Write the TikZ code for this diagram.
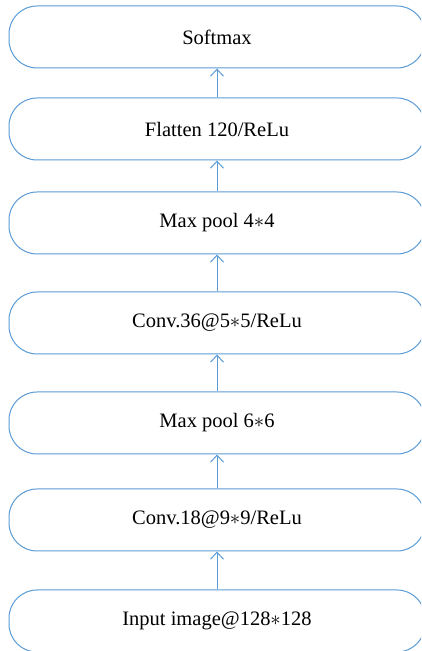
\documentclass[tikz,border=0pt]{standalone}
\usepackage{fontspec}
\setmainfont{Liberation Serif}
\usetikzlibrary{arrows.meta}
\definecolor{layerblue}{RGB}{91,155,213}
\tikzset{layer/.style={draw=layerblue, line width=1pt, rounded corners=28pt, minimum width=416pt, minimum height=62pt, inner sep=0pt, font=\fontsize{20.5}{24}\selectfont},
	up/.style={draw=layerblue, line width=1pt, -{Straight Barb[length=7pt,width=13pt]}}}

\begin{document}
\begin{tikzpicture}[x=1pt,y=1pt]
		\clip (0,0) rectangle (421,651);
		\useasboundingbox (0,0) rectangle (421,651);
		\node (input)[layer]at (217,30)  {Input image@128$\ast$128};
		\node (conva)[layer]at (217,131)  {Conv.18@9$\ast$9/ReLu};
		\node (poola)[layer]at (217,228)  {Max pool 6$\ast$6};
		\node (convb)[layer]at (217,328)  {Conv.36@5$\ast$5/ReLu};
		\node (poolb)[layer]at (217,428)  {Max pool 4$\ast$4};
		\node (flat)[layer]at (217,522)  {Flatten 120/ReLu};
		\node (soft)[layer]at (217,614)  {Softmax};

		\draw [up](input)--(conva);
		\draw [up](conva)--(poola);
		\draw [up](poola)--(convb);
		\draw [up](convb)--(poolb);
		\draw [up](poolb)--(flat);
		\draw [up](flat)--(soft);
	\end{tikzpicture}
\end{document}
